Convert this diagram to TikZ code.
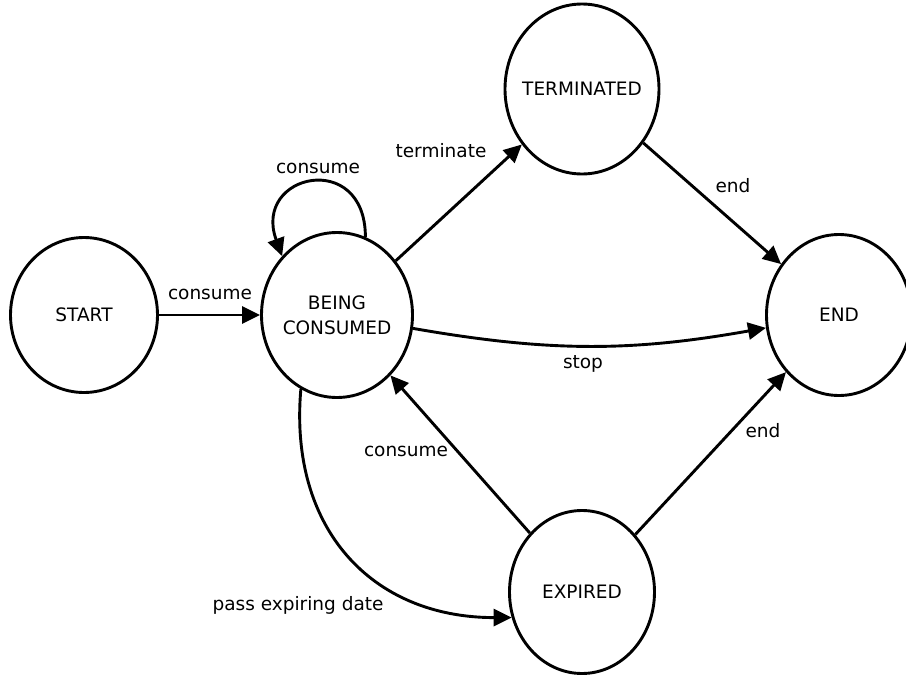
\documentclass[tikz,border=0pt]{standalone}
\usepackage{fontspec}
\setmainfont{DejaVu Sans}
\usetikzlibrary{shapes.geometric,arrows.meta}
\begin{document}
\begin{tikzpicture}[x=1pt,y=-1pt,
  state/.style={ellipse,draw,line width=2.9pt,inner sep=-25pt,font=\fontsize{18.5}{25}\selectfont,align=center},
  lbl/.style={font=\fontsize{18.5}{22}\selectfont,inner sep=0pt},
  conn/.style={line width=2.9pt,-{Triangle[length=18pt,width=17pt]}}]
\useasboundingbox (0,0) rectangle (906,675);
\node[state,minimum width=147pt,minimum height=155pt] (s) at (84,315) {START};
\node[state,minimum width=151pt,minimum height=165pt] (b) at (337,315) {BEING\\CONSUMED};
\node[state,minimum width=154pt,minimum height=170pt] (t) at (582,89) {TERMINATED};
\node[state,minimum width=145pt,minimum height=161pt] (e) at (839,315) {END};
\node[state,minimum width=145pt,minimum height=163pt] (x) at (582,592) {EXPIRED};
\draw[conn] (s) -- (b);
\draw[conn] (b.70) to[out=90,in=110,distance=88pt] (b.133);
\draw[conn] (b) -- (t);
\draw[conn] (t) -- (e);
\draw[conn] (b) to[bend right=10] (e);
\draw[conn] (x) -- (b);
\draw[conn] (x) -- (e);
\draw[conn] (b.-116) .. controls +(95:140) and +(180:140) .. (x.200);
\node[lbl] (l1) at (210,294) {consume};
\node[lbl] (l2) at (318,168) {consume};
\node[lbl] (l3) at (441,151) {terminate};
\node[lbl] (l4) at (733,186) {end};
\node[lbl] (l5) at (583,364) {stop};
\node[lbl] (l6) at (406,451) {consume};
\node[lbl] (l7) at (763,431) {end};
\node[lbl] (l8) at (298,605) {pass expiring date};
\end{tikzpicture}
\end{document}
